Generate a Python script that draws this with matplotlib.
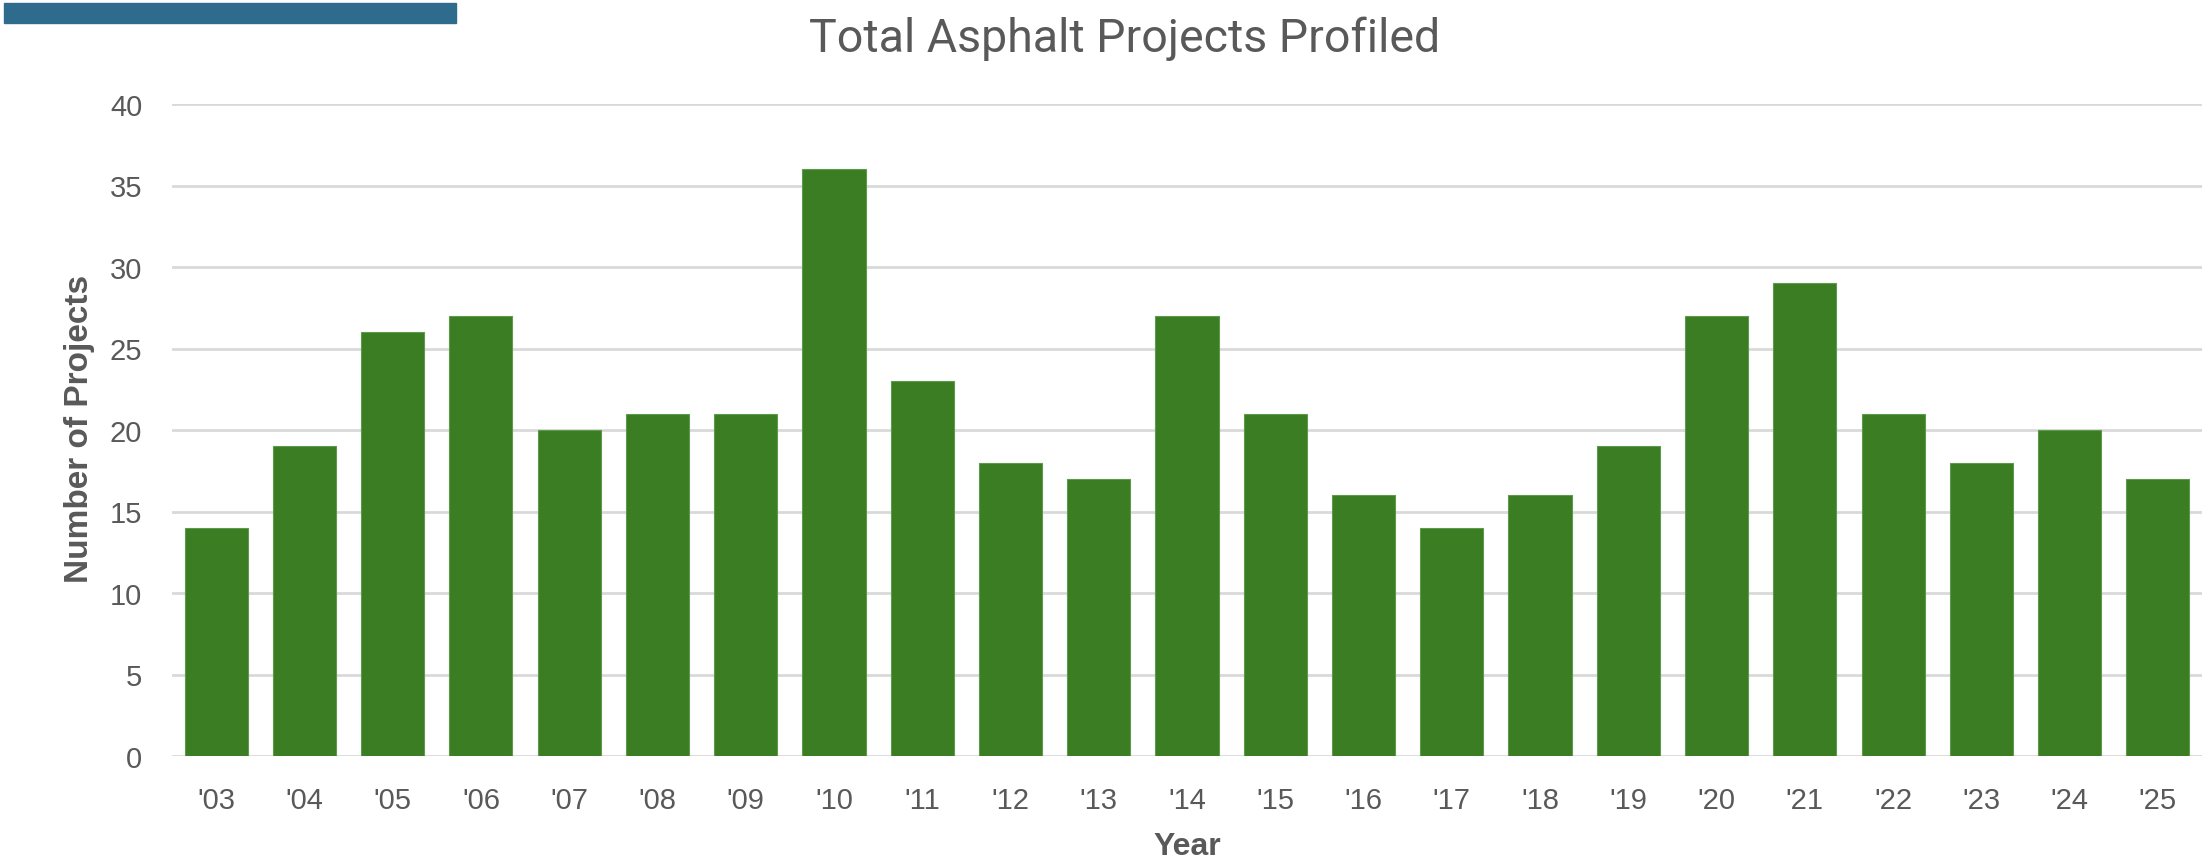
import matplotlib
matplotlib.use("Agg")
import matplotlib.pyplot as plt
from matplotlib.patches import Rectangle

years = ["'03", "'04", "'05", "'06", "'07", "'08", "'09", "'10", "'11", "'12", "'13", "'14",
         "'15", "'16", "'17", "'18", "'19", "'20", "'21", "'22", "'23", "'24", "'25"]
projects = [14, 19, 26, 27, 20, 21, 21, 36, 23, 18, 17, 27, 21, 16, 14, 16, 19, 27, 29, 21, 18, 20, 17]
yticks = [0, 5, 10, 15, 20, 25, 30, 35, 40]

W, H = 2202, 862
fig = plt.figure(figsize=(W / 100, H / 100), dpi=100)
plt.rcParams['font.family'] = ['Liberation Sans', 'DejaVu Sans']

left, right, bottom, top = 172, 2202, 757, 105
ax = fig.add_axes([left / W, 1 - bottom / H, (right - left) / W, (bottom - top) / H])

txt = '#595959'
x = list(range(len(years)))
ax.bar(x, projects, width=0.715, color='#3B7D23', edgecolor='#5E9A4A', linewidth=0.8, zorder=3)
ax.set_xlim(-0.5, len(years) - 0.5)
ax.set_ylim(0, 40)
ax.set_yticks(yticks)
ax.set_xticks(x)
ax.set_xticklabels(years)
ax.grid(axis='y', color='#D9D9D9', linewidth=2, zorder=0)
for s in ax.spines.values():
    s.set_visible(False)
ax.tick_params(axis='both', length=0, labelsize=21, labelcolor=txt)
ax.tick_params(axis='y', pad=21.5)
ax.tick_params(axis='x', pad=21.5)

ax.text((80 - left) / (right - left), 0.5 + (431 - 429) / (bottom - top), 'Number of Projects',
        transform=ax.transAxes, rotation=90, rotation_mode='anchor', ha='center', va='center',
        fontsize=24, fontweight='bold', color=txt)
ax.set_xlabel('Year', fontsize=23, fontweight='bold', color=txt)
ax.xaxis.label.set_va('center')
ax.xaxis.set_label_coords(0.5, (bottom - 847) / (bottom - top))

fig.text(1125 / W, 1 - 39 / H, 'Total Asphalt Projects Profiled', ha='center', va='center',
         fontsize=33.5, color=txt, family=['Roboto', 'DejaVu Sans'])

fig.patches.append(Rectangle((4 / W, 1 - 24 / H), (456 - 4) / W, 20 / H,
                             transform=fig.transFigure, color='#2E6B8C', zorder=5))

fig.savefig('out.png', dpi=100)
